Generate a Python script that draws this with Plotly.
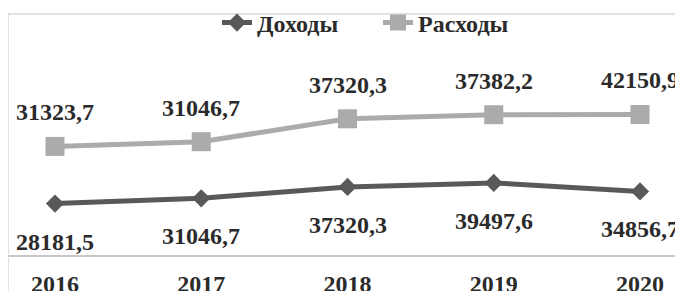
import plotly.graph_objects as go
import numpy as np

years = ["2016", "2017", "2018", "2019", "2020"]
income = [28181.5, 31046.7, 37320.3, 39497.6, 34856.7]
expense = [31323.7, 31046.7, 37320.3, 37382.2, 42150.9]
series_names = ["Доходы", "Расходы"]

def fmt(v):
    return f"{v:.1f}".replace(".", ",")

# stacked line chart: second series is drawn on top of the first
inc = np.array(income)
stk = inc + np.array(expense)

# page body adds an 8px offset, so the figure is 8px smaller
W, H = 675, 283
ml, mr, mt, mb = 0, 0, 6, 36
per_px = 548.0
plot_h = H - mt - mb
ymax = plot_h * per_px
step = 146.25
xr = [-47 / step, 4 + (W - 632) / step]

FONT = "Liberation Serif, Times New Roman, serif"
TXT = "#2b2b2b"
DARK = "#595959"
LIGHT = "#ababab"

fig = go.Figure()
fig.add_trace(go.Scatter(
    x=years, y=inc, name=series_names[0], mode="lines+markers",
    line=dict(color=DARK, width=5),
    marker=dict(symbol="diamond", size=14, color=DARK),
))
fig.add_trace(go.Scatter(
    x=years, y=stk, name=series_names[1], mode="lines+markers",
    line=dict(color=LIGHT, width=5),
    marker=dict(symbol="square", size=19, color=LIGHT),
))

ann = []
for i, yv in enumerate(years):
    # category axes take the category index for annotations
    ann.append(dict(x=i, y=float(stk[i]), xref="x", yref="y", text=fmt(expense[i]),
                    showarrow=False, yshift=34,
                    font=dict(family=FONT, size=24, color=TXT, weight="bold")))
    ann.append(dict(x=i, y=float(inc[i]), xref="x", yref="y", text=fmt(income[i]),
                    showarrow=False, yshift=-38,
                    font=dict(family=FONT, size=24, color=TXT, weight="bold")))

shapes = [
    dict(type="line", xref="paper", yref="paper", x0=0, x1=1.01, y0=1, y1=1,
         line=dict(color="#d9d9d9", width=1.5)),
    dict(type="line", xref="paper", yref="paper", x0=0, x1=0, y0=1,
         y1=-mb / plot_h - 0.05, line=dict(color="#d9d9d9", width=1.5)),
]

fig.update_layout(
    width=W, height=H,
    margin=dict(l=ml, r=mr, t=mt, b=mb, autoexpand=False),
    paper_bgcolor="white", plot_bgcolor="white",
    showlegend=True,
    legend=dict(orientation="h", x=209 / W, xanchor="left", y=(H - mb - 15) / plot_h,
                yanchor="middle", entrywidth=116,
                font=dict(family=FONT, size=24, color=TXT, weight="bold"),
                bgcolor="rgba(0,0,0,0)"),
    xaxis=dict(type="category", range=xr, showgrid=False, zeroline=False,
               showline=True, linecolor="#c8c8c8", linewidth=1.5,
               ticks="", ticklabelstandoff=6,
               tickfont=dict(family=FONT, size=24, color=TXT, weight="bold")),
    yaxis=dict(range=[0, ymax], showticklabels=False, showgrid=False,
               zeroline=False, showline=False, ticks=""),
    annotations=ann,
    shapes=shapes,
)

fig.write_html("out.html")
